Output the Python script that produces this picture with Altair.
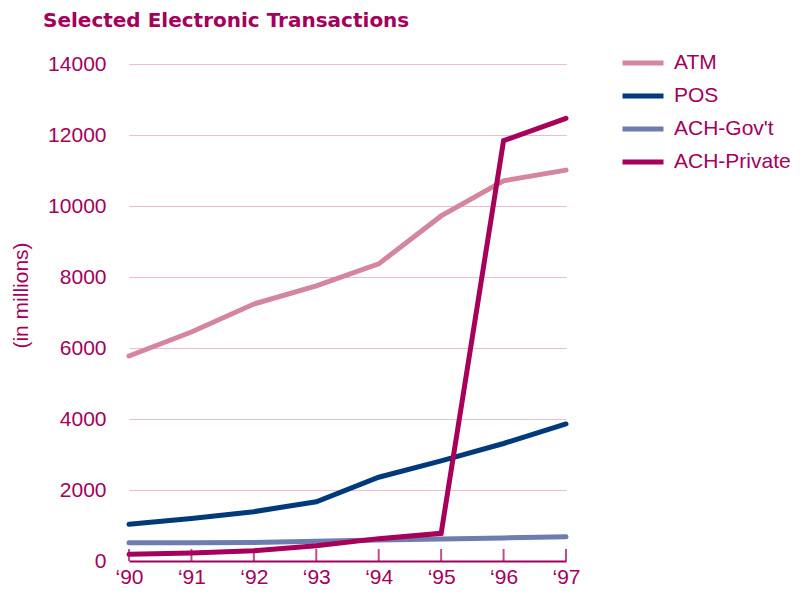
import altair as alt
import pandas as pd

years = ["\u201890", "\u201891", "\u201892", "\u201893", "\u201894", "\u201895", "\u201896", "\u201897"]
series = ["ATM", "POS", "ACH-Gov't", "ACH-Private"]
atm = [5775, 6450, 7240, 7750, 8370, 9720, 10710, 11010]
pos = [1035, 1200, 1390, 1670, 2360, 2820, 3310, 3860]
ach_gov = [516, 516, 520, 555, 590, 620, 650, 680]
ach_private = [188, 225, 290, 430, 630, 780, 11840, 12470]
colors = ["#D4869F", "#003A7A", "#6E7DB0", "#A6005A"]

MAG = "#A4005B"
GRID = "#EDBBCE"
FONT = "Liberation Sans"

rows = []
for name, vals in zip(series, [atm, pos, ach_gov, ach_private]):
    for i, (y, v) in enumerate(zip(years, vals)):
        rows.append({"year": y, "series": name, "value": v, "order": i})
df = pd.DataFrame(rows)
tick_df = pd.DataFrame({"year": years})

x_enc = alt.X("year:O", sort=years,
              scale=alt.Scale(type="point", padding=0),
              axis=alt.Axis(title=None, labelAngle=0, labelFontSize=21, labelFont=FONT,
                            labelColor=MAG, ticks=False, labelPadding=16, labelFlush=False,
                            labelAlign="center",
                            domainColor=MAG, domainWidth=2, grid=False))

lines = alt.Chart(df).mark_line(strokeWidth=5, strokeCap="round").encode(
    x=x_enc,
    y=alt.Y("value:Q", scale=alt.Scale(domain=[0, 14000], nice=False),
            axis=alt.Axis(values=[0, 2000, 4000, 6000, 8000, 10000, 12000, 14000],
                          format="d",
                          title="(in millions)", titleFontSize=21, titleFont=FONT,
                          titleFontWeight="normal", titleColor=MAG,
                          titleX=-102, titleY=231, titleBaseline="alphabetic",
                          labelFontSize=21, labelFont=FONT, labelColor=MAG,
                          labelPadding=23, ticks=False, domain=False,
                          grid=True, gridColor=GRID, gridWidth=1)),
    color=alt.Color("series:N", sort=series,
                    scale=alt.Scale(domain=series, range=colors),
                    legend=alt.Legend(title=None, orient="none", legendX=491, legendY=-24,
                                      symbolType="stroke", symbolStrokeWidth=5,
                                      symbolSize=1681, labelFontSize=21, labelFont=FONT,
                                      labelColor=MAG, labelOffset=8, rowPadding=-2)),
    order="order:Q",
)

ticks = alt.Chart(tick_df).mark_tick(orient="vertical", size=12, thickness=2,
                                     color=MAG, yOffset=-6).encode(
    x=alt.X("year:O", sort=years),
    y=alt.datum(0),
)

chart = alt.layer(ticks, lines).properties(
    width=437, height=497,
    padding={"left": 121, "top": 56, "right": 233, "bottom": 25},
    autosize=alt.AutoSizeParams(type="none"),
    title=alt.TitleParams("Selected Electronic Transactions", anchor="start", frame="group",
                          dx=-86, dy=7, offset=0, baseline="alphabetic", font="DejaVu Sans",
                          fontSize=20, fontWeight="bold", color=MAG),
).configure(background="white").configure_view(stroke=None)

chart.save("out.html", embed_options={"renderer": "svg", "actions": False})
